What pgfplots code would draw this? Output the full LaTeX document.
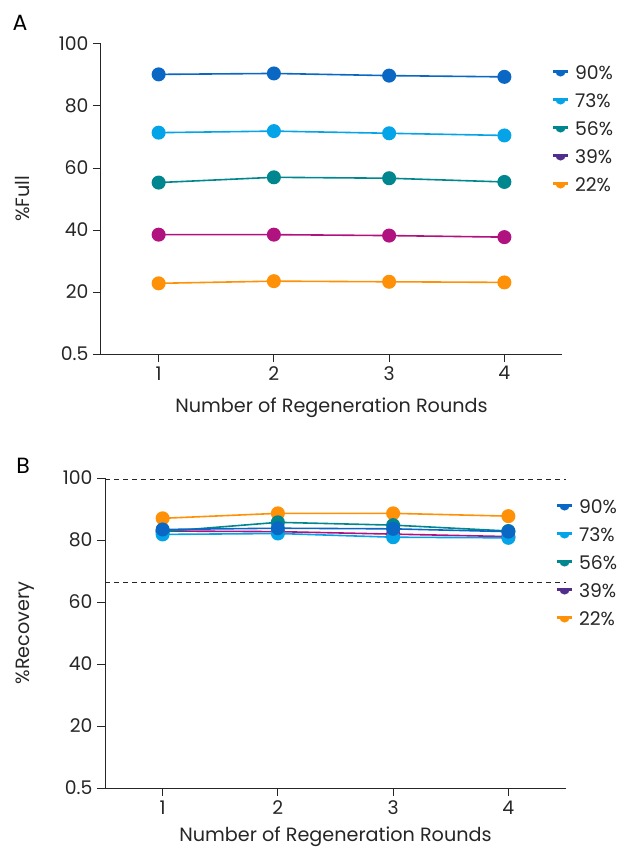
\documentclass[border=0pt]{standalone}
\usepackage{pgfplots}
\pgfplotsset{compat=1.18}
\usepackage{fontspec}
\setmainfont{Poppins}
\definecolor{cNine}{HTML}{0A67C3}
\definecolor{cSeven}{HTML}{05A3E8}
\definecolor{cFive}{HTML}{00868F}
\definecolor{cThree}{HTML}{B0127F}
\definecolor{cThreeL}{HTML}{512D8C}
\definecolor{cTwo}{HTML}{FF9108}
\begin{document}
\begin{tikzpicture}
\useasboundingbox (0pt,0pt) rectangle (619pt,-850pt);
\pgfplotsset{
  panel/.style={
    scale only axis, width=461pt, height=310pt,
    xmin=0.5, xmax=4.5, ymin=0, ymax=100,
    axis lines*=left, axis line style={line width=1pt, black!85},
    tick style={line width=1pt, black!85},
    tick align=outside, major tick length=8pt,
    xtick={1,2,3,4}, ytick={0,20,40,60,80,100},
    yticklabels={0.5,20,40,60,80,100},
    /pgf/number format/assume math mode=true,
    tick label style={font=\fontsize{18.8}{22}\selectfont, text=black!85},
    label style={font=\fontsize{19.2}{22}\selectfont, text=black!85},
    xlabel={Number of Regeneration Rounds},
    yticklabel style={xshift=-1pt},
    xticklabel style={yshift=-1pt},
    clip=false,
    every axis plot/.append style={line width=1.6pt, mark=*, mark size=6.2pt, mark options={solid}},
    legend style={draw=none, fill=none, at={(axis description cs:0.978,0.932)}, anchor=north west,
      inner sep=0pt, row sep=10pt, font=\fontsize{18.8}{22}\selectfont,
      nodes={inner sep=0pt, text height=14pt, text depth=4pt, text=black!85},
      /tikz/every odd column/.append style={column sep=6pt}},
    legend cell align=left,
    legend image code/.code={
      \draw[line width=2.2pt,#1] (0cm,0.1cm) -- (0.52cm,0.1cm);
      \fill[#1] (0.11cm,0.1cm) arc (180:360:0.15cm) -- cycle;
    },
  }
}
% Panel A
\begin{axis}[panel, at={(101pt,-354pt)}, anchor=south west, ylabel={\%Full},
  xlabel style={at={(axis description cs:0.5,-0.174)}, anchor=center},
  ylabel style={at={(axis description cs:-0.171,0.5)}, anchor=center}]
\addplot[cTwo, forget plot] coordinates {(1,22.8) (2,23.5) (3,23.3) (4,23.1)};
\addplot[cThree, forget plot] coordinates {(1,38.5) (2,38.5) (3,38.2) (4,37.7)};
\addplot[cFive, forget plot] coordinates {(1,55.3) (2,57.0) (3,56.7) (4,55.5)};
\addplot[cSeven, forget plot] coordinates {(1,71.4) (2,71.9) (3,71.2) (4,70.5)};
\addplot[cNine, forget plot] coordinates {(1,90.2) (2,90.5) (3,89.8) (4,89.4)};
\addlegendimage{cNine}\addlegendentry{90\%}
\addlegendimage{cSeven}\addlegendentry{73\%}
\addlegendimage{cFive}\addlegendentry{56\%}
\addlegendimage{cThreeL}\addlegendentry{39\%}
\addlegendimage{cTwo}\addlegendentry{22\%}
\end{axis}
% Panel B
\begin{axis}[panel, at={(105pt,-788pt)}, anchor=south west, ylabel={\%Recovery},
  xlabel style={at={(axis description cs:0.5,-0.158)}, anchor=center},
  ylabel style={at={(axis description cs:-0.174,0.5)}, anchor=center}]
\addplot[black!85, dashed, dash pattern=on 5pt off 4pt, line width=1pt, mark=none, forget plot] coordinates {(0.5,99.4) (4.5,99.4)};
\addplot[black!85, dashed, dash pattern=on 5pt off 4pt, line width=1pt, mark=none, forget plot] coordinates {(0.5,66.3) (4.5,66.3)};
\addplot[cTwo, forget plot] coordinates {(1,87.0) (2,88.6) (3,88.6) (4,87.7)};
\addplot[cThree, forget plot] coordinates {(1,82.9) (2,82.7) (3,81.9) (4,81.1)};
\addplot[cFive, forget plot] coordinates {(1,82.7) (2,85.7) (3,84.8) (4,82.9)};
\addplot[cSeven, forget plot] coordinates {(1,81.8) (2,82.1) (3,80.9) (4,80.7)};
\addplot[cNine, forget plot] coordinates {(1,83.4) (2,83.8) (3,83.6) (4,82.7)};
\addlegendimage{cNine}\addlegendentry{90\%}
\addlegendimage{cSeven}\addlegendentry{73\%}
\addlegendimage{cFive}\addlegendentry{56\%}
\addlegendimage{cThreeL}\addlegendentry{39\%}
\addlegendimage{cTwo}\addlegendentry{22\%}
\end{axis}
\node[font=\fontsize{22}{26}\selectfont, anchor=center] at (20pt,-23pt) {A};
\node[font=\fontsize{22}{26}\selectfont, anchor=center] at (23pt,-466pt) {B};
\end{tikzpicture}
\end{document}
